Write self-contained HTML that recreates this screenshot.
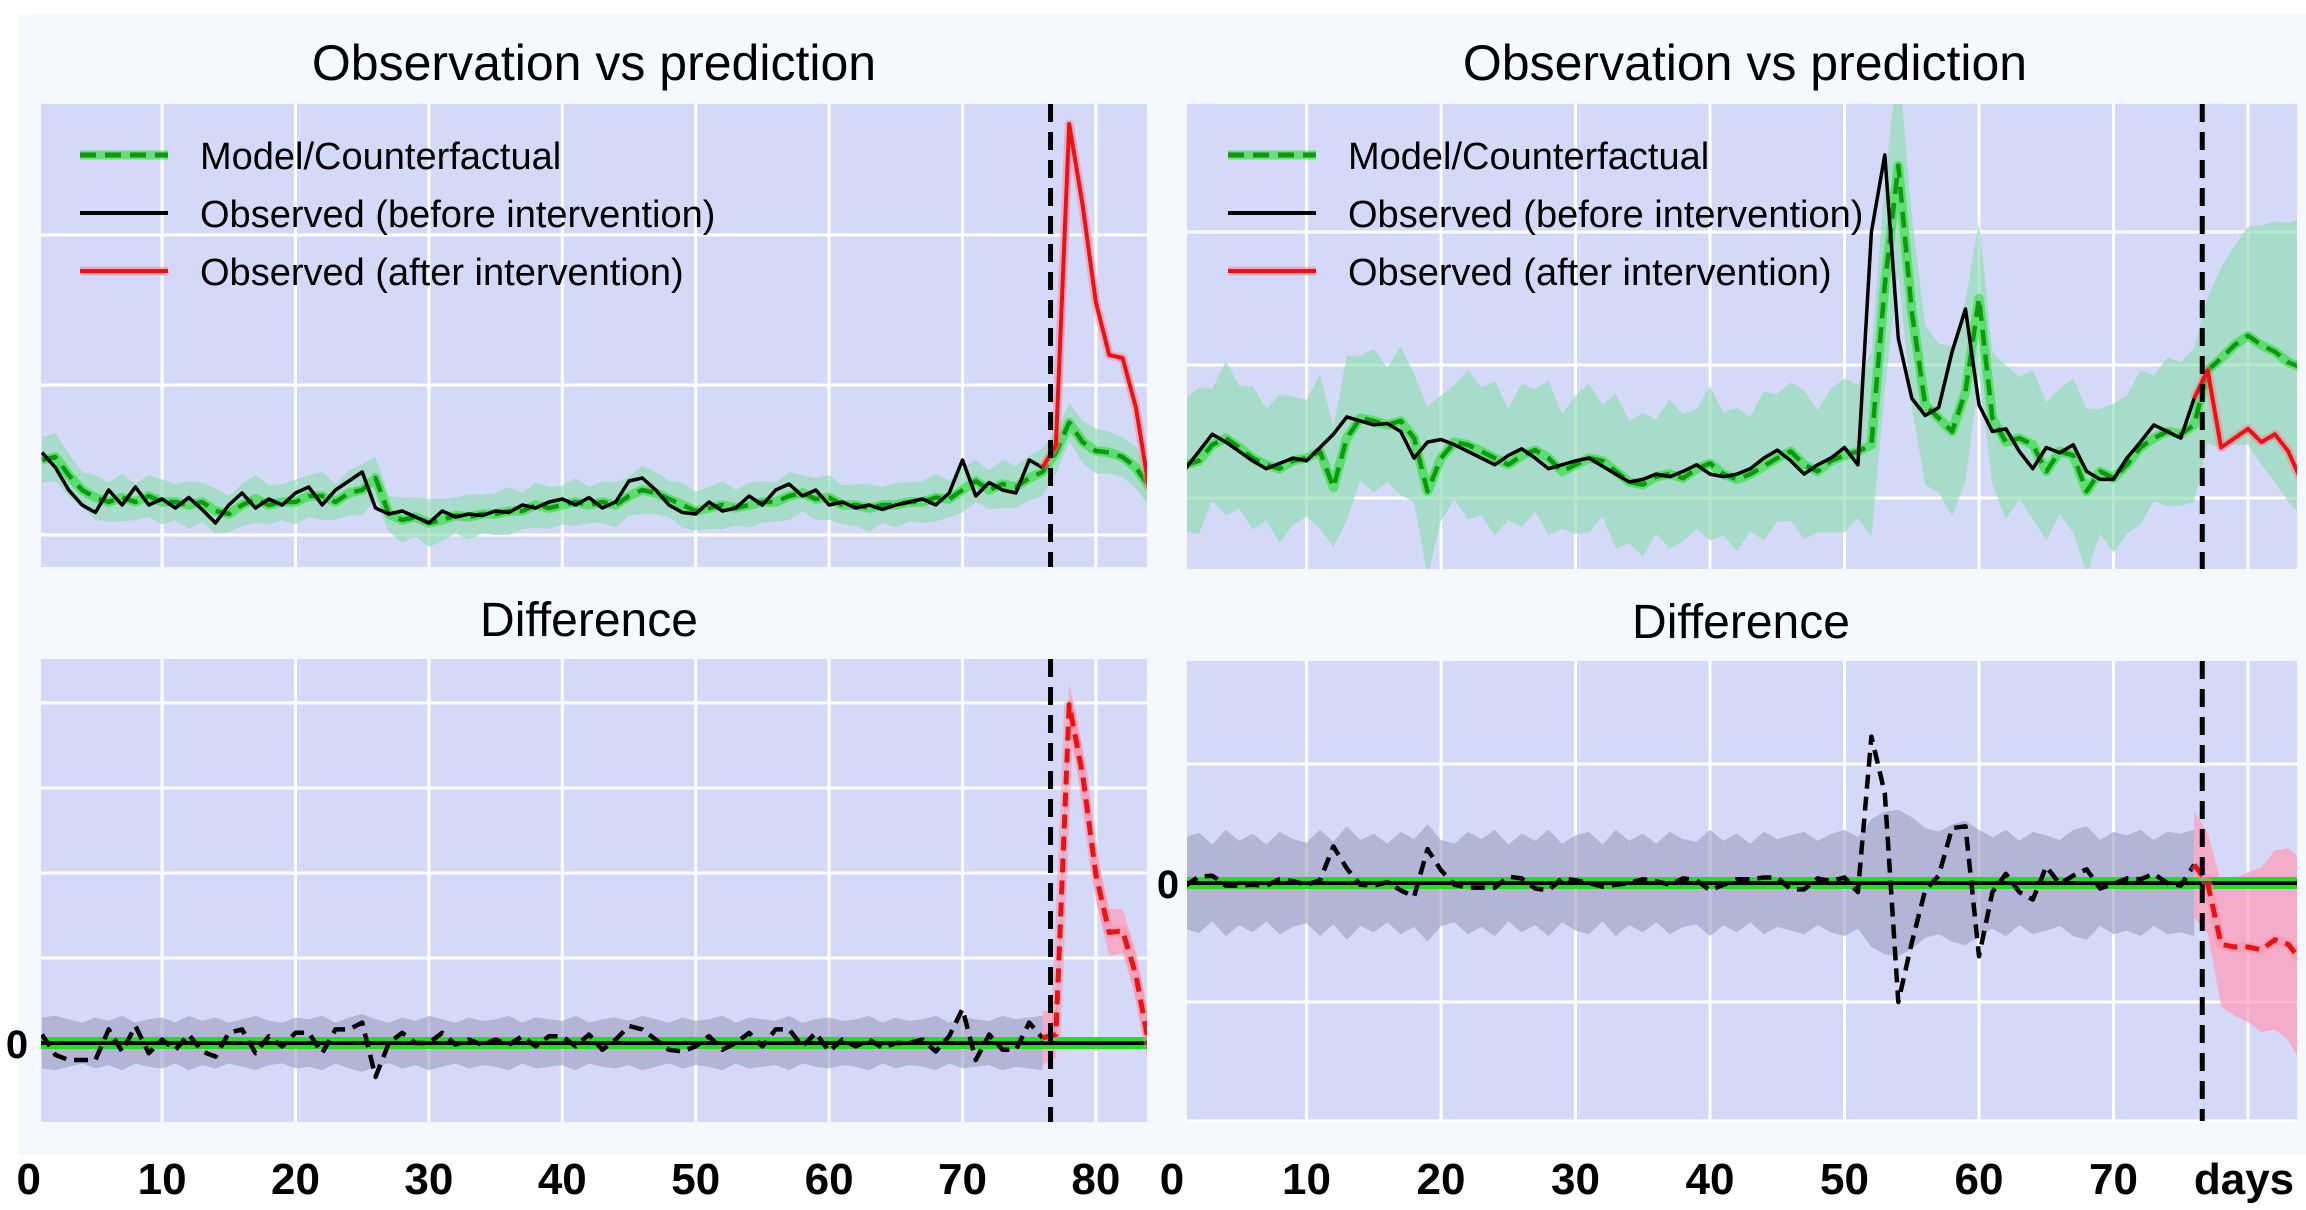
<!DOCTYPE html>
<html><head><meta charset="utf-8"><style>
html,body{margin:0;padding:0;background:#fff;}
svg{display:block;}
text{font-family:"Liberation Sans",sans-serif;}
</style></head><body>
<svg id="fig" width="2306" height="1210" viewBox="0 0 2306 1210" xmlns="http://www.w3.org/2000/svg">
<rect x="18" y="14" width="2288" height="1141" fill="#f5f9fe"/>
</svg>
<script>
const days = Array.from({length:84},(_,i)=>i+1);
const interventionDay = 76.6;
const xTicks = [0,10,20,30,40,50,60,70,80];
const xTickLabelsLeft = ["0","10","20","30","40","50","60","70","80"];
const xTickLabelsRight = ["0","10","20","30","40","50","60","70","days"];
const leftObserved = [1.55,1.45,1.3,1.2,1.15,1.3,1.2,1.32,1.2,1.24,1.18,1.25,1.17,1.08,1.2,1.28,1.18,1.24,1.2,1.28,1.32,1.2,1.3,1.36,1.42,1.18,1.14,1.16,1.12,1.08,1.16,1.12,1.14,1.13,1.16,1.15,1.2,1.18,1.22,1.24,1.2,1.25,1.18,1.22,1.36,1.38,1.3,1.2,1.15,1.14,1.22,1.16,1.18,1.26,1.2,1.3,1.34,1.26,1.3,1.2,1.22,1.18,1.2,1.17,1.2,1.22,1.24,1.2,1.28,1.5,1.26,1.35,1.3,1.28,1.5,1.45,1.6,3.74,3.2,2.55,2.2,2.18,1.85,1.3];
const leftModel = [1.5,1.52,1.4,1.3,1.25,1.22,1.25,1.22,1.26,1.22,1.22,1.2,1.22,1.16,1.14,1.2,1.24,1.2,1.22,1.22,1.26,1.26,1.22,1.28,1.3,1.38,1.14,1.1,1.12,1.08,1.1,1.13,1.12,1.14,1.14,1.16,1.16,1.2,1.18,1.2,1.22,1.2,1.22,1.2,1.26,1.3,1.28,1.24,1.2,1.16,1.18,1.2,1.18,1.2,1.22,1.22,1.26,1.28,1.24,1.25,1.2,1.2,1.18,1.2,1.2,1.22,1.22,1.25,1.24,1.3,1.36,1.3,1.34,1.32,1.38,1.42,1.55,1.75,1.62,1.56,1.55,1.52,1.45,1.32];
const leftBand = [0.15,0.16,0.14,0.12,0.15,0.13,0.16,0.12,0.14,0.15,0.12,0.16,0.13,0.15,0.12,0.14,0.16,0.13,0.12,0.15,0.14,0.16,0.12,0.15,0.17,0.14,0.12,0.15,0.13,0.16,0.14,0.12,0.15,0.13,0.14,0.16,0.12,0.15,0.14,0.13,0.16,0.12,0.14,0.15,0.13,0.16,0.14,0.12,0.15,0.13,0.14,0.16,0.12,0.15,0.14,0.13,0.16,0.12,0.14,0.15,0.13,0.14,0.16,0.12,0.15,0.13,0.14,0.16,0.12,0.15,0.14,0.13,0.16,0.14,0.15,0.16,0.14,0.13,0.14,0.15,0.14,0.13,0.14,0.13];
const rightObserved = [1.22,1.35,1.48,1.42,1.35,1.28,1.22,1.26,1.3,1.28,1.38,1.48,1.61,1.58,1.55,1.56,1.5,1.3,1.42,1.44,1.4,1.35,1.3,1.25,1.32,1.37,1.3,1.22,1.25,1.28,1.3,1.24,1.18,1.12,1.14,1.18,1.16,1.2,1.25,1.18,1.16,1.18,1.22,1.3,1.36,1.28,1.18,1.25,1.3,1.38,1.25,3.0,3.58,2.2,1.75,1.62,1.68,2.1,2.42,1.7,1.5,1.52,1.35,1.22,1.38,1.34,1.4,1.2,1.14,1.14,1.3,1.42,1.55,1.5,1.45,1.75,1.96,1.38,1.45,1.52,1.42,1.48,1.35,1.12];
const rightModel = [1.25,1.28,1.4,1.45,1.38,1.3,1.25,1.22,1.28,1.3,1.35,1.08,1.45,1.6,1.58,1.55,1.58,1.45,1.05,1.3,1.42,1.4,1.35,1.3,1.25,1.32,1.36,1.3,1.2,1.25,1.3,1.28,1.2,1.12,1.1,1.16,1.18,1.15,1.22,1.26,1.18,1.14,1.18,1.24,1.3,1.35,1.25,1.2,1.28,1.32,1.35,1.4,2.6,3.5,2.4,1.7,1.6,1.5,1.8,2.5,1.6,1.42,1.45,1.4,1.2,1.35,1.32,1.05,1.2,1.15,1.25,1.38,1.45,1.5,1.48,1.55,1.96,2.05,2.15,2.22,2.15,2.1,2.02,1.98];
const rightBand = [0.5,0.55,0.42,0.58,0.46,0.54,0.42,0.56,0.48,0.44,0.58,0.45,0.62,0.47,0.54,0.43,0.56,0.48,0.64,0.47,0.43,0.56,0.48,0.58,0.42,0.54,0.46,0.58,0.43,0.52,0.56,0.42,0.58,0.46,0.54,0.43,0.56,0.48,0.45,0.58,0.46,0.54,0.43,0.56,0.48,0.52,0.56,0.46,0.54,0.58,0.5,0.7,0.78,0.8,0.72,0.6,0.56,0.64,0.68,0.58,0.5,0.58,0.46,0.56,0.52,0.47,0.58,0.62,0.47,0.56,0.52,0.58,0.47,0.56,0.54,0.58,0.55,0.68,0.75,0.82,0.9,0.98,1.05,1.12];
const leftTopTicks = [1,2,3];
const leftDiffTicks = [0.5,1,1.5,2];
const rightTopTicks = [1,2,3];
const rightDiffTicks = [-2.6,-1.3,1.3];

const NS="http://www.w3.org/2000/svg";
const svg=document.getElementById('fig');
function mk(tag,attrs,parent){const e=document.createElementNS(NS,tag);for(const k in attrs)e.setAttribute(k,attrs[k]);(parent||svg).appendChild(e);return e;}
function linearScale(d0,d1,r0,r1){return v=>r0+(v-d0)*(r1-r0)/(d1-d0);}

function panel(name,x0,x1,y0,y1,dayAt0,pxPerDay,yScale,yTicks){
  const g=mk('g',{});
  
  
  const bg=mk('rect',{x:x0,y:y0,width:x1-x0,height:y1-y0,fill:'#d5d9f8'},g);
  
  
  const xs=d=>dayAt0+d*pxPerDay;
  xTicks.forEach(t=>{const X=xs(t);if(X>x0&&X<x1){const l=mk('line',{x1:X,x2:X,y1:y0,y2:y1,stroke:'#fff','stroke-width':3},g);}});
  yTicks.forEach(t=>{const Y=yScale(t);const l=mk('line',{x1:x0,x2:x1,y1:Y,y2:Y,stroke:'#fff','stroke-width':3},g);});
  const clip=mk('clipPath',{id:'c'+name},g);mk('rect',{x:x0,y:y0,width:x1-x0,height:y1-y0},clip);
  const inner=mk('g',{'clip-path':'url(#c'+name+')'},g);
  return {g,inner,xs,ys:yScale,x0,x1,y0,y1};
}
function pathFrom(P,idx,vals){return idx.map((i,k)=>(k?'L':'M')+P.xs(days[i]).toFixed(1)+' '+P.ys(vals[i]).toFixed(1)).join(' ');}
function range(a,b){const r=[];for(let i=a;i<=b;i++)r.push(i);return r;}
function band(P,idx,lo,hi,fill,op,name){
  const top=idx.map((i,k)=>(k?'L':'M')+P.xs(days[i]).toFixed(1)+' '+P.ys(hi[i]).toFixed(1)).join(' ');
  const bot=idx.slice().reverse().map(i=>'L'+P.xs(days[i]).toFixed(1)+' '+P.ys(lo[i]).toFixed(1)).join(' ');
  const p=mk('path',{d:top+' '+bot+' Z',fill:fill,'fill-opacity':op},P.inner);
  
}
function line(P,d,stroke,w,dash,name,glow){
  if(glow){const gp=mk('path',{d:d,fill:'none',stroke:glow,'stroke-width':w+5,'stroke-opacity':0.45,'stroke-linejoin':'round'},P.inner);}
  const p=mk('path',{d:d,fill:'none',stroke:stroke,'stroke-width':w,'stroke-linejoin':'round'},P.inner);
  if(dash)p.setAttribute('stroke-dasharray',dash);
  
}
function vline(P,name){const X=P.xs(interventionDay);const l=mk('line',{x1:X,x2:X,y1:P.y0,y2:P.y1,stroke:'#000','stroke-width':5,'stroke-dasharray':'18 10'},P.g);}
function text(x,y,s,size,weight,anchor,name){const t=mk('text',{x:x,y:y,'font-size':size,'font-weight':weight,'text-anchor':anchor,fill:'#000'});t.textContent=s;return t;}

const iv=days.findIndex(d=>d>interventionDay);
function drawTop(P,obs,model,bw,pfx){
  const lo=model.map((m,i)=>m-bw[i]),hi=model.map((m,i)=>m+bw[i]);
  band(P,range(0,83),lo,hi,'#8fdcb0',0.65,pfx+'-prediction-band');
  line(P,pathFrom(P,range(0,83),model),'#0a9a0a',4.5,'16 9',pfx+'-model-line','#00e000');
  line(P,pathFrom(P,range(0,iv-1),obs),'#000',3.5,null,pfx+'-observed-before-line');
  line(P,pathFrom(P,range(iv-1,83),obs),'#ee1111',4,null,pfx+'-observed-after-line','#ff7a90');
  vline(P,pfx+'-intervention-line');
}
function drawDiff(P,obs,model,bw,pfx){
  const diff=obs.map((o,i)=>o-model[i]);
  const lo=diff.map((d,i)=>-bw[i]),hi=diff.map((d,i)=>bw[i]);
  band(P,range(0,iv-1),lo,hi,'#9c9cc0',0.6,pfx+'-diff-band-before');
  band(P,range(iv-1,83),lo.map((v,i)=>diff[i]+v),hi.map((v,i)=>diff[i]+v),'#ff9ab8',0.7,pfx+'-diff-band-after');
  const Y0=P.ys(0);
  const z=mk('line',{x1:P.x0,x2:P.x1,y1:Y0,y2:Y0,stroke:'#22dd22','stroke-width':12},P.inner);
  const z2=mk('line',{x1:P.x0,x2:P.x1,y1:Y0,y2:Y0,stroke:'#000','stroke-width':4},P.inner);
  line(P,pathFrom(P,range(0,iv-1),diff),'#000',4.5,'14 8',pfx+'-diff-before-line');
  line(P,pathFrom(P,range(iv-1,83),diff),'#ee1111',5,'14 8',pfx+'-diff-after-line','#ff8aa0');
  vline(P,pfx+'-diff-intervention-line');
}
const LT=panel('left-top-panel',41,1147,104,567,28.7,13.34,linearScale(1,3,535,235),leftTopTicks);
drawTop(LT,leftObserved,leftModel,leftBand,'left');
const LB=panel('left-diff-panel',41,1147,659,1122,28.7,13.34,linearScale(0,1,1043,873),leftDiffTicks);
drawDiff(LB,leftObserved,leftModel,leftBand,'left');
const RT=panel('right-top-panel',1187,2297,104,569,1172,13.45,linearScale(1,2,498,365),rightTopTicks);
drawTop(RT,rightObserved,rightModel,rightBand,'right');
const RB=panel('right-diff-panel',1187,2297,661,1121,1172,13.45,linearScale(0,1,883,791.5),rightDiffTicks);
drawDiff(RB,rightObserved,rightModel,rightBand,'right');

text(594,80,'Observation vs prediction',50,'normal','middle','left-top-title');
text(1745,80,'Observation vs prediction',50,'normal','middle','right-top-title');
text(589,636,'Difference',48,'normal','middle','left-diff-title');
text(1741,638,'Difference',48,'normal','middle','right-diff-title');
function legend(x,pfx){
  const items=[['Model/Counterfactual','#0a9a0a','16 9','#00e000'],['Observed (before intervention)','#000',null,null],['Observed (after intervention)','#ee1111',null,'#ff7a90']];
  items.forEach((it,k)=>{const y=155+k*58;
    if(it[3]){const gl=mk('line',{x1:x,x2:x+88,y1:y,y2:y,stroke:it[3],'stroke-width':9,'stroke-opacity':0.5});}
    const l=mk('line',{x1:x,x2:x+88,y1:y,y2:y,stroke:it[1],'stroke-width':it[2]?5:4});if(it[2])l.setAttribute('stroke-dasharray',it[2]);
    
    text(x+120,y+14,it[0],38,'normal','start',pfx+'-legend-label');});
}
legend(80,'left');legend(1228,'right');
xTicks.forEach((t,i)=>{text(LB.xs(t),1194,xTickLabelsLeft[i],44,'bold','middle','left-x-tick-label');});
xTicks.forEach((t,i)=>{const X=RB.xs(t)+(i===8?-4:0);text(X,1194,xTickLabelsRight[i],44,'bold','middle','right-x-tick-label');});
text(17,1058,'0',40,'bold','middle','left-diff-y-zero-label');
text(1168,898,'0',40,'bold','middle','right-diff-y-zero-label');
</script>
</body></html>
